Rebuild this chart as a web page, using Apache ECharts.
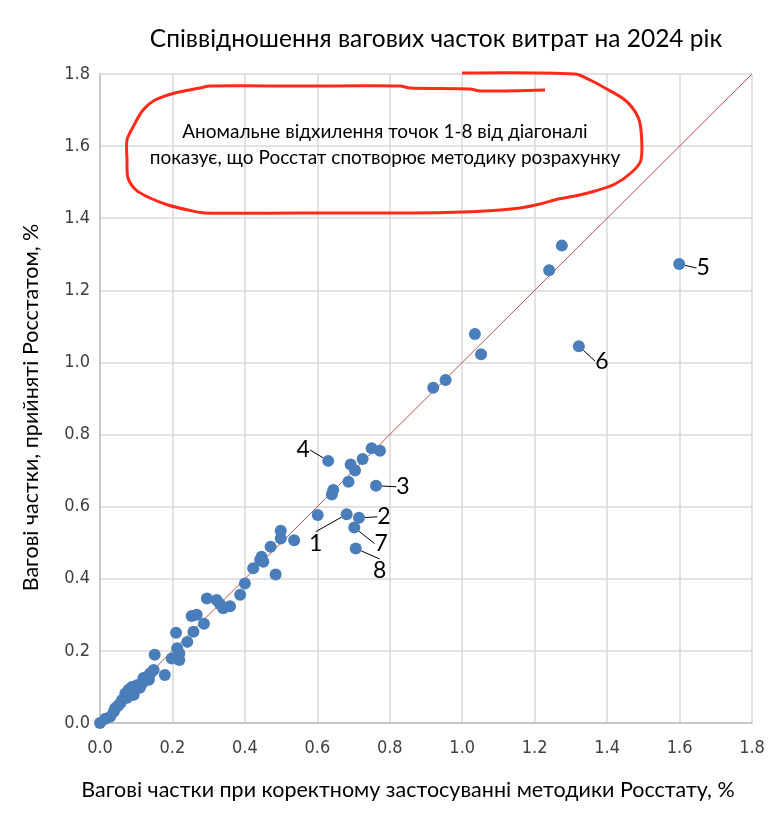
<!DOCTYPE html>
<html>
<head>
<meta charset="utf-8">
<script src="https://cdn.jsdelivr.net/npm/echarts@6/dist/echarts.min.js"></script>
<style>
  html, body { margin: 0; padding: 0; background: #ffffff; }
  #chart { width: 782px; height: 815px; }
</style>
</head>
<body>
<div id="chart"></div>
<script>
// weights with correct method (x) vs weights accepted by Rosstat (y), %
var xVals = [0.000, 0.015, 0.028, 0.038, 0.042, 0.050, 0.056, 0.061, 0.070, 0.075,
             0.079, 0.093, 0.088, 0.102, 0.110, 0.116, 0.120, 0.125, 0.130, 0.135,
             0.139, 0.148, 0.179, 0.151, 0.198, 0.213, 0.219, 0.219, 0.241, 0.210,
             0.258, 0.287, 0.253, 0.267, 0.295, 0.322, 0.331, 0.340, 0.359, 0.387,
             0.400, 0.423, 0.442, 0.451, 0.446, 0.485, 0.471, 0.499, 0.499, 0.536,
             0.601, 0.640, 0.644, 0.686, 0.692, 0.704, 0.725, 0.750, 0.773, 0.920,
             0.954, 1.035, 1.052, 1.240, 1.275];
var yVals = [0.000, 0.012, 0.017, 0.031, 0.041, 0.048, 0.055, 0.064, 0.082, 0.070,
             0.092, 0.078, 0.100, 0.105, 0.098, 0.110, 0.125, 0.119, 0.128, 0.120,
             0.138, 0.147, 0.133, 0.189, 0.179, 0.207, 0.175, 0.193, 0.225, 0.250,
             0.253, 0.275, 0.297, 0.300, 0.345, 0.341, 0.330, 0.318, 0.324, 0.356,
             0.387, 0.429, 0.452, 0.447, 0.461, 0.412, 0.489, 0.512, 0.533, 0.507,
             0.577, 0.634, 0.646, 0.669, 0.717, 0.700, 0.732, 0.762, 0.755, 0.930,
             0.951, 1.079, 1.023, 1.256, 1.324];

// anomalous points 1-8
var outNames = ['1', '2', '3', '4', '5', '6', '7', '8'];
var outX = [0.681, 0.715, 0.762, 0.630, 1.599, 1.322, 0.702, 0.706];
var outY = [0.579, 0.569, 0.658, 0.727, 1.273, 1.045, 0.542, 0.484];

var axisTicks = ['0.0', '0.2', '0.4', '0.6', '0.8', '1.0', '1.2', '1.4', '1.6', '1.8'];
var diagonal = [[0, 0], [1.8, 1.8]];

// label shifts for the numbered points (px)
var labelShift = [[-31, 29], [25, -1], [27, 1], [-25, -11], [24, 4], [23, 15], [27, 16], [24, 22]];

var chart = echarts.init(document.getElementById('chart'));

var mainData = [];
for (var i = 0; i < xVals.length; i++) {
  mainData.push([xVals[i], yVals[i]]);
}
var outData = [];
for (var j = 0; j < outX.length; j++) {
  outData.push({ name: outNames[j], value: [outX[j], outY[j]] });
}

var fontMain = 'Lato, "Open Sans", sans-serif';
var fontTick = '"Liberation Sans Narrow", "DejaVu Sans Condensed", sans-serif';

// hand drawn red loop round the note
var loopPts = [[462,73],[575,74],[590,80],[605,88],[625,100],[637,115],[641,130],[641,160],[632,172],
  [615,184],[595,191],[575,196],[558,199],[540,204],[520,208],[500,210],[463,212],[410,213],
  [300,213],[205,213],[188,210],[168,205],[150,198],[136,190],[128,178],[127,160],[127,140],
  [133,127],[143,110],[155,100],[175,93],[200,88],[210,86],[300,86],[400,86],[410,88],
  [470,89],[480,91],[545,90]];

var option = {
  animation: false,
  backgroundColor: '#ffffff',
  title: {
    text: 'Співвідношення вагових часток витрат на 2024 рік',
    left: 431,
    top: 22,
    textAlign: 'center',
    textStyle: { fontFamily: fontMain, fontSize: 24.5, fontWeight: 'normal', color: '#000000' }
  },
  grid: { left: 100, right: 30, top: 74, bottom: 92 },
  xAxis: {
    type: 'value',
    min: 0, max: 1.8, interval: 0.2,
    name: 'Вагові частки при коректному застосуванні методики Росстату, %',
    nameLocation: 'middle',
    nameGap: 56,
    nameTextStyle: { fontFamily: fontMain, fontSize: 21.5, color: '#000000', padding: [0, 36, 0, 0] },
    axisLine: { show: true, lineStyle: { color: '#bfbfbf', width: 1.5 } },
    axisTick: { show: false },
    splitLine: { show: true, lineStyle: { color: '#d9d9d9', width: 1.5 } },
    axisLabel: {
      margin: 16, fontFamily: fontTick, fontSize: 18, color: '#404040',
      formatter: function (v) { return axisTicks[Math.round(v / 0.2)]; }
    }
  },
  yAxis: {
    type: 'value',
    min: 0, max: 1.8, interval: 0.2,
    name: 'Вагові частки, прийняті Росстатом, %',
    nameLocation: 'middle',
    nameGap: 58,
    nameTextStyle: { fontFamily: fontMain, fontSize: 21.5, color: '#000000', padding: [0, 18, 0, 0] },
    axisLine: { show: true, lineStyle: { color: '#bfbfbf', width: 1.5 } },
    axisTick: { show: false },
    splitLine: { show: true, lineStyle: { color: '#d9d9d9', width: 1.5 } },
    axisLabel: {
      margin: 10, fontFamily: fontTick, fontSize: 18, color: '#404040',
      formatter: function (v) { return axisTicks[Math.round(v / 0.2)]; }
    }
  },
  series: [
    {
      type: 'line',
      data: diagonal,
      symbol: 'none',
      lineStyle: { color: '#c0504d', width: 1 },
      silent: true,
      z: 1
    },
    {
      type: 'scatter',
      data: mainData,
      symbolSize: 12,
      itemStyle: { color: '#4a7ebb', opacity: 1 },
      z: 3
    },
    {
      type: 'scatter',
      data: outData,
      symbolSize: 12,
      itemStyle: { color: '#4a7ebb', opacity: 1 },
      label: {
        show: true,
        position: 'inside',
        formatter: '{b}',
        fontFamily: fontMain,
        fontSize: 23,
        color: '#000000'
      },
      labelLine: { show: true, lineStyle: { color: '#000000', width: 1 } },
      labelLayout: function (p) {
        var s = labelShift[p.dataIndex];
        return { dx: s[0], dy: s[1] };
      },
      z: 3
    }
  ],
  graphic: [
    {
      type: 'polyline',
      shape: { points: loopPts, smooth: 0.3 },
      style: { stroke: '#ff2a1a', lineWidth: 3, fill: null },
      z: 10
    },
    {
      type: 'text',
      x: 385, y: 145,
      style: {
        text: 'Аномальне відхилення точок 1-8 від діагоналі\nпоказує, що Росстат спотворює методику розрахунку',
        fontFamily: fontMain,
        fontSize: 19,
        lineHeight: 26,
        fill: '#000000',
        align: 'center',
        verticalAlign: 'middle'
      },
      z: 10
    }
  ]
};

chart.setOption(option);
window.addEventListener('resize', function () {
  chart.resize();
});
</script>
</body>
</html>
